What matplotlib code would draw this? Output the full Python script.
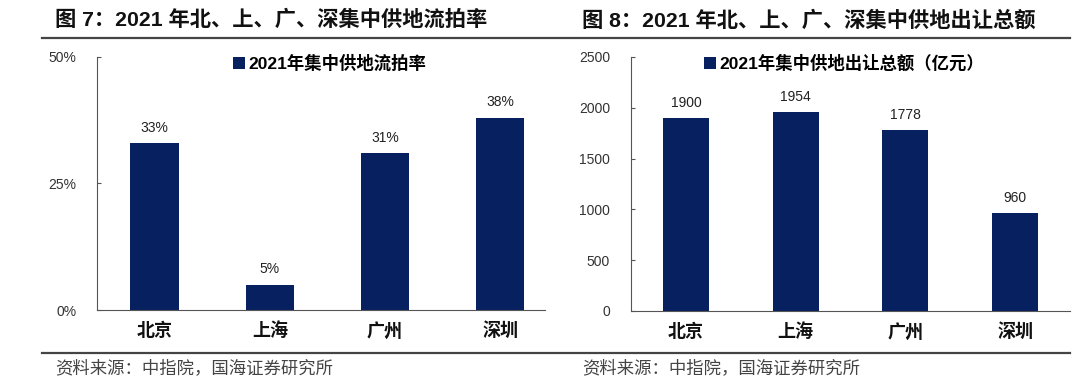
import matplotlib
matplotlib.use("Agg")
import matplotlib.pyplot as plt

plt.rcParams['font.family'] = ['Liberation Sans', 'Noto Sans CJK SC', 'DejaVu Sans']

# data
cities = ['北京', '上海', '广州', '深圳']
fail_rate = [33, 5, 31, 38]          # %
supply_total = [1900, 1954, 1778, 960]  # 亿元

rate_ticks = [0, 25, 50]
total_ticks = [0, 500, 1000, 1500, 2000, 2500]

title_left = '图 7：2021 年北、上、广、深集中供地流拍率'
title_right = '图 8：2021 年北、上、广、深集中供地出让总额'
legend_left = '2021年集中供地流拍率'
legend_right = '2021年集中供地出让总额（亿元）'
source = '资料来源：中指院，国海证券研究所'

navy = '#07205f'
W, H = 1089, 390

fig = plt.figure(figsize=(W / 100, H / 100), dpi=100)


def px_axes(x0, x1, ytop, ybot):
    return fig.add_axes([x0 / W, 1 - ybot / H, (x1 - x0) / W, (ybot - ytop) / H])


def style(ax):
    for s in ['top', 'right']:
        ax.spines[s].set_visible(False)
    ax.spines['left'].set_color('#555555')
    ax.spines['bottom'].set_color('#555555')
    ax.tick_params(axis='y', direction='in', length=3, colors='#555555',
                   labelcolor='#333333', labelsize=10, pad=15)
    ax.tick_params(axis='x', length=0, pad=9)
    for lab in ax.get_xticklabels():
        lab.set_fontweight('bold')
        lab.set_fontsize(13)
        lab.set_color('#111111')


# left panel
ax1 = px_axes(97, 545, 57, 310)
x = range(len(cities))
b1 = ax1.bar(x, fail_rate, width=0.42, color=navy, label=legend_left)
ax1.set_xlim(-0.5, 3.39)
ax1.set_ylim(0, 50)
ax1.set_yticks(rate_ticks)
ax1.set_yticklabels([f'{v}%' for v in rate_ticks])
ax1.set_xticks(list(x))
ax1.set_xticklabels(cities)
style(ax1)
for r, v in zip(b1, fail_rate):
    ax1.annotate(f'{v}%', (r.get_x() + r.get_width() / 2, v), xytext=(0, 6),
                 textcoords='offset points', ha='center', va='bottom',
                 fontsize=10, color='#222222')
ax1.legend(loc='upper center', bbox_to_anchor=(0.52, 1.07), frameon=False,
           handlelength=0.7, handleheight=0.7, handletextpad=0.2,
           prop={'weight': 'bold', 'size': 12.5})

# right panel
ax2 = px_axes(631, 1070, 57, 311)
b2 = ax2.bar(x, supply_total, width=0.42, color=navy, label=legend_right)
ax2.set_xlim(-0.5, 3.5)
ax2.set_ylim(0, 2500)
ax2.set_yticks(total_ticks)
ax2.set_xticks(list(x))
ax2.set_xticklabels(cities)
style(ax2)
for r, v in zip(b2, supply_total):
    ax2.annotate(f'{v}', (r.get_x() + r.get_width() / 2, v), xytext=(0, 6),
                 textcoords='offset points', ha='center', va='bottom',
                 fontsize=10, color='#222222')
ax2.legend(loc='upper center', bbox_to_anchor=(0.485, 1.07), frameon=False,
           handlelength=0.7, handleheight=0.7, handletextpad=0.2,
           prop={'weight': 'bold', 'size': 12.5})

# titles, rules and source notes
fig.text(55 / W, 1 - 20 / H, title_left, fontsize=15.3, fontweight='bold',
         va='center', ha='left', color='#111111')
fig.text(582 / W, 1 - 20 / H, title_right, fontsize=15.3, fontweight='bold',
         va='center', ha='left', color='#111111')
fig.add_artist(plt.Line2D([42 / W, 1070 / W], [1 - 38 / H, 1 - 38 / H],
                          color='#444444', lw=1.6))
fig.add_artist(plt.Line2D([42 / W, 1070 / W], [1 - 353 / H, 1 - 353 / H],
                          color='#444444', lw=1.6))
fig.text(55 / W, 1 - 368 / H, source, fontsize=12.5, va='center', ha='left',
         color='#444444')
fig.text(582 / W, 1 - 368 / H, source, fontsize=12.5, va='center', ha='left',
         color='#444444')

fig.savefig('out.png', dpi=100)
